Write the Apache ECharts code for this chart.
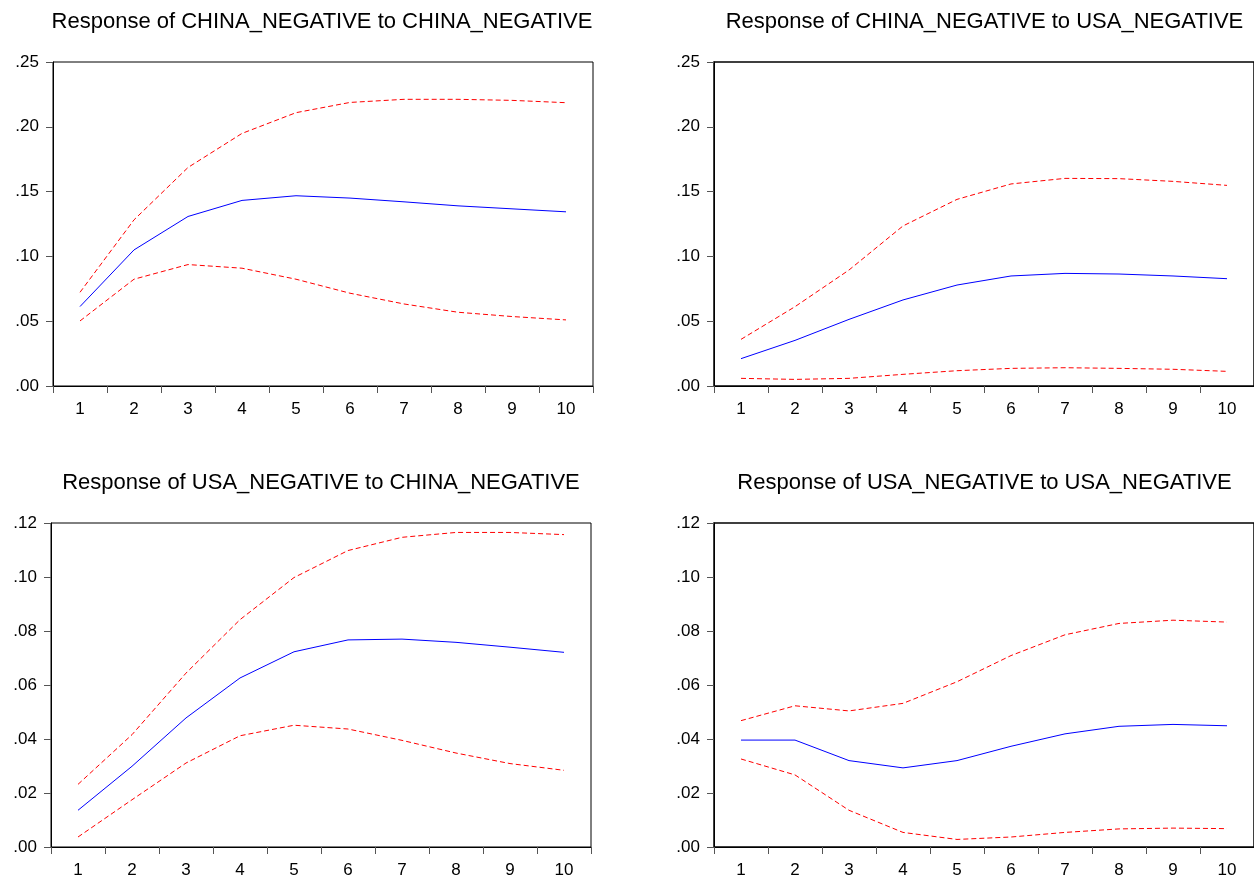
<!DOCTYPE html>
<html>
<head>
<meta charset="utf-8">
<script src="https://cdn.jsdelivr.net/npm/echarts@6/dist/echarts.min.js"></script>
<style>
html,body{margin:0;padding:0;background:#fff;}
#chart{width:1254px;height:880px;}
</style>
</head>
<body>
<div id="chart"></div>
<script>
const categories = ['1','2','3','4','5','6','7','8','9','10'];

const titles = [
  'Response of CHINA_NEGATIVE to CHINA_NEGATIVE',
  'Response of CHINA_NEGATIVE to USA_NEGATIVE',
  'Response of USA_NEGATIVE to CHINA_NEGATIVE',
  'Response of USA_NEGATIVE to USA_NEGATIVE'
];

// Panel 1: CHINA_NEGATIVE to CHINA_NEGATIVE
const p1Resp  = [0.0613, 0.1050, 0.1308, 0.1432, 0.1468, 0.1450, 0.1421, 0.1390, 0.1367, 0.1344];
const p1Upper = [0.0723, 0.1282, 0.1686, 0.1949, 0.2109, 0.2188, 0.2212, 0.2212, 0.2204, 0.2186];
const p1Lower = [0.0502, 0.0824, 0.0937, 0.0909, 0.0824, 0.0716, 0.0633, 0.0569, 0.0536, 0.0510];

// Panel 2: CHINA_NEGATIVE to USA_NEGATIVE
const p2Resp  = [0.0211, 0.0352, 0.0514, 0.0664, 0.0779, 0.0849, 0.0869, 0.0864, 0.0849, 0.0828];
const p2Upper = [0.0360, 0.0612, 0.0895, 0.1235, 0.1440, 0.1559, 0.1602, 0.1600, 0.1579, 0.1548];
const p2Lower = [0.0059, 0.0051, 0.0059, 0.0090, 0.0118, 0.0136, 0.0141, 0.0136, 0.0129, 0.0113];

// Panel 3: USA_NEGATIVE to CHINA_NEGATIVE
const p3Resp  = [0.0136, 0.0299, 0.0478, 0.0626, 0.0723, 0.0767, 0.0770, 0.0758, 0.0740, 0.0721];
const p3Upper = [0.0232, 0.0416, 0.0644, 0.0842, 0.0998, 0.1098, 0.1147, 0.1165, 0.1165, 0.1157];
const p3Lower = [0.0037, 0.0175, 0.0311, 0.0412, 0.0451, 0.0437, 0.0395, 0.0348, 0.0309, 0.0284];

// Panel 4: USA_NEGATIVE to USA_NEGATIVE
const p4Resp  = [0.0396, 0.0396, 0.0320, 0.0293, 0.0320, 0.0373, 0.0419, 0.0447, 0.0454, 0.0449];
const p4Upper = [0.0468, 0.0523, 0.0504, 0.0532, 0.0612, 0.0709, 0.0786, 0.0828, 0.0840, 0.0833];
const p4Lower = [0.0326, 0.0267, 0.0136, 0.0054, 0.0028, 0.0037, 0.0054, 0.0067, 0.0070, 0.0068];

const yMax = [0.25, 0.25, 0.12, 0.12];
const yStep = [0.05, 0.05, 0.02, 0.02];

const panels = [
  {resp: p1Resp, up: p1Upper, lo: p1Lower},
  {resp: p2Resp, up: p2Upper, lo: p2Lower},
  {resp: p3Resp, up: p3Upper, lo: p3Lower},
  {resp: p4Resp, up: p4Upper, lo: p4Lower}
];

const FONT = 'Liberation Sans, Arial, Helvetica, sans-serif';
const layout = [
  {left: 53,  top: 62,  width: 540, height: 324, titleX: 322,   titleY: 11},
  {left: 714, top: 62,  width: 541, height: 324, titleX: 984.5, titleY: 11},
  {left: 51,  top: 523, width: 540, height: 324, titleX: 321,   titleY: 472},
  {left: 714, top: 523, width: 541, height: 324, titleX: 984.5, titleY: 472}
];

const fmt = v => {
  let s = v.toFixed(2);
  if (s.startsWith('0')) s = s.slice(1);
  return s;
};

const option = {
  backgroundColor: '#fff',
  animation: false,
  title: layout.map((l, i) => ({
    text: titles[i],
    left: l.titleX,
    top: l.titleY,
    textAlign: 'center',
    padding: 0,
    textStyle: {fontFamily: FONT, fontSize: 22, fontWeight: 'normal', color: '#000'}
  })),
  grid: layout.map((l, i) => ({
    left: l.left, top: l.top, width: l.width, height: l.height,
    show: true, borderColor: '#000', borderWidth: i % 2 === 1 ? 1.5 : 1,
    backgroundColor: 'transparent'
  })),
  xAxis: layout.map((l, i) => ({
    type: 'category',
    gridIndex: i,
    data: categories,
    boundaryGap: true,
    axisLine: {show: true, lineStyle: {color: '#000', width: 1}},
    axisTick: {show: true, interval: 0, length: 7, inside: false, lineStyle: {color: '#555', width: 1}},
    axisLabel: {interval: 0, margin: 15, fontFamily: FONT, fontSize: 17, color: '#000'},
    splitLine: {show: false}
  })),
  yAxis: layout.map((l, i) => ({
    type: 'value',
    gridIndex: i,
    min: 0,
    max: yMax[i],
    interval: yStep[i],
    axisLine: {show: true, lineStyle: {color: '#000', width: 1}},
    axisTick: {show: true, length: 7, inside: false, lineStyle: {color: '#555', width: 1}},
    axisLabel: {margin: 14, fontFamily: FONT, fontSize: 17, color: '#000', formatter: fmt},
    splitLine: {show: false}
  })),
  series: []
};

panels.forEach((p, i) => {
  option.series.push({
    type: 'line', xAxisIndex: i, yAxisIndex: i, data: p.up,
    symbol: 'none', lineStyle: {color: '#ff0000', width: 1, type: [5, 3]}, z: 3
  });
  option.series.push({
    type: 'line', xAxisIndex: i, yAxisIndex: i, data: p.lo,
    symbol: 'none', lineStyle: {color: '#ff0000', width: 1, type: [5, 3]}, z: 3
  });
  option.series.push({
    type: 'line', xAxisIndex: i, yAxisIndex: i, data: p.resp,
    symbol: 'none', lineStyle: {color: '#0000ff', width: 1, type: 'solid'}, z: 4
  });
});

const chart = echarts.init(document.getElementById('chart'), null, {renderer: 'canvas'});
chart.setOption(option);
</script>
</body>
</html>
